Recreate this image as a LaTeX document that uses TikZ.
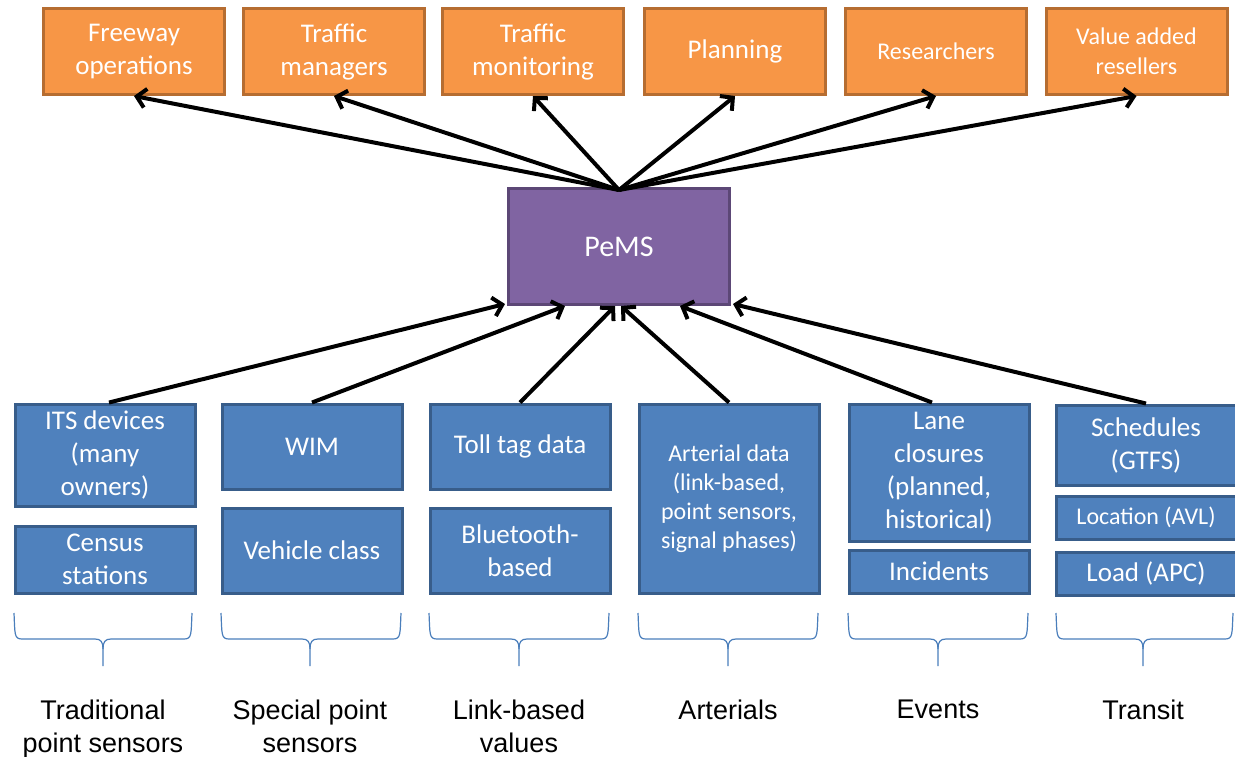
\documentclass[tikz,border=0pt]{standalone}
\usepackage{fontspec}
\setmainfont{Carlito}
\newfontfamily\labfont{Liberation Sans}
\usetikzlibrary{arrows.meta}
\definecolor{orfill}{HTML}{F79646}
\definecolor{ordraw}{HTML}{B66D31}
\definecolor{blfill}{HTML}{4F81BD}
\definecolor{bldraw}{HTML}{385D8A}
\definecolor{pufill}{HTML}{8064A2}
\definecolor{pudraw}{HTML}{5C4776}
\definecolor{brcol}{HTML}{4A7EBB}
\tikzset{
  ob/.style={draw=ordraw, fill=orfill, line width=3pt, minimum width=181pt, minimum height=86pt,
    inner sep=0pt, align=center, text=white, font=\fontsize{27}{33}\selectfont},
  obs/.style={ob, font=\fontsize{24}{30}\selectfont},
  bb/.style={draw=bldraw, fill=blfill, line width=3pt, minimum width=180pt, inner sep=0pt,
    align=center, text=white, anchor=north west, font=\fontsize{27}{33}\selectfont},
  bbs/.style={bb, font=\fontsize{24}{29}\selectfont},
  pb/.style={draw=pudraw, fill=pufill, line width=3pt, minimum width=221pt, minimum height=116pt,
    inner sep=0pt, text=white, font=\fontsize{30}{36}\selectfont},
  arr/.style={line width=4pt, -{Straight Barb[length=9pt, width=19pt]}},
  brace/.style={draw=brcol, line width=1.2pt},
  cat/.style={anchor=north, inner sep=0pt, align=center, font=\labfont\fontsize{27}{33}\selectfont}
}
\begin{document}
\begin{tikzpicture}[x=1pt, y=-1pt]
\useasboundingbox (0,0) rectangle (1235,756);
% top boxes
\node[ob]  (t1) at (134,51.5)  {Freeway\\operations};
\node[ob]  (t2) at (334,51.5)  {Traffic\\managers};
\node[ob]  (t3) at (533,51.5)  {Traffic\\monitoring};
\node[ob]  (t4) at (735,51.5)  {Planning};
\node[obs] (t5) at (936,51.5)  {Researchers};
\node[obs] (t6) at (1136.5,51.5) {Value added\\resellers};
% PeMS
\node[pb] (P) at (619,246.5) {PeMS};
% bottom boxes
\node[bb, minimum height=102pt] (b1) at (13.5,402.5) {ITS devices\\(many\\owners)};
\node[bb, minimum height=67pt]  (b1b) at (13.5,524.5) {Census\\stations};
\node[bb, minimum height=85pt]  (b2) at (220.5,402.5) {WIM};
\node[bb, minimum height=85pt]  (b2b) at (220.5,506.5) {Vehicle class};
\node[bb, minimum height=85pt]  (b3) at (428.5,402.5) {Toll tag data};
\node[bb, minimum height=85pt]  (b3b) at (428.5,506.5) {Bluetooth-\\based};
\node[bbs, minimum height=189pt] (b4) at (637.5,402.5) {Arterial data\\(link-based,\\point sensors,\\signal phases)};
\node[bb, minimum height=137pt] (b5) at (847.5,402.5) {Lane\\closures\\(planned,\\historical)};
\node[bb, minimum height=43pt]  (b5b) at (847.5,548.5) {Incidents};
\node[bb, minimum height=80pt]  (b6) at (1054.5,403.5) {Schedules\\(GTFS)};
\node[bbs, minimum height=43pt] (b6b) at (1054.5,494.5) {Location (AVL)};
\node[bb, minimum height=43pt]  (b6c) at (1054.5,550.5) {Load (APC)};
% arrows to consumers
\foreach \t in {t1,t2,t3,t4,t5,t6}
  \draw[arr] ([yshift=-3pt]P.north) -- (\t.south);
% arrows from sources
\draw[arr] ([xshift=4pt]b1.north) -- ([xshift=-2pt,yshift=2pt]P.south west);
\draw[arr] (b2.north) -- ([xshift=-54pt]P.south);
\draw[arr] (b3.north) -- ([xshift=-4pt]P.south);
\draw[arr] (b4.north) -- ([xshift=2pt]P.south);
\draw[arr] ([xshift=-7pt]b5.north) -- ([xshift=61pt]P.south);
\draw[arr] (b6.north) -- ([xshift=2pt,yshift=2pt]P.south east);
% braces
\foreach \l/\r/\c in {14/192/103, 221/401/310, 429/609/519, 638/818/728, 848/1028/938, 1056/1233/1143}{
  \draw[brace] (\l,613) .. controls (\l+1,634) and (\l,639) .. (\l+8,639) -- (\c-8,639)
     .. controls (\c-2,639) and (\c,642) .. (\c,649) -- (\c,666);
  \draw[brace] (\r,613) .. controls (\r-1,634) and (\r,639) .. (\r-8,639) -- (\c+8,639)
     .. controls (\c+2,639) and (\c,642) .. (\c,649);
}
% category labels
\node[cat] (c1) at (103,700) {Traditional\\point sensors};
\node[cat] (c2) at (310,700) {Special point\\sensors};
\node[cat] (c3) at (519,700) {Link-based\\values};
\node[cat] (c4) at (728,700) {Arterials};
\node[cat] (c5) at (938,700) {Events};
\node[cat] (c6) at (1143,700) {Transit};
\end{tikzpicture}
\end{document}
